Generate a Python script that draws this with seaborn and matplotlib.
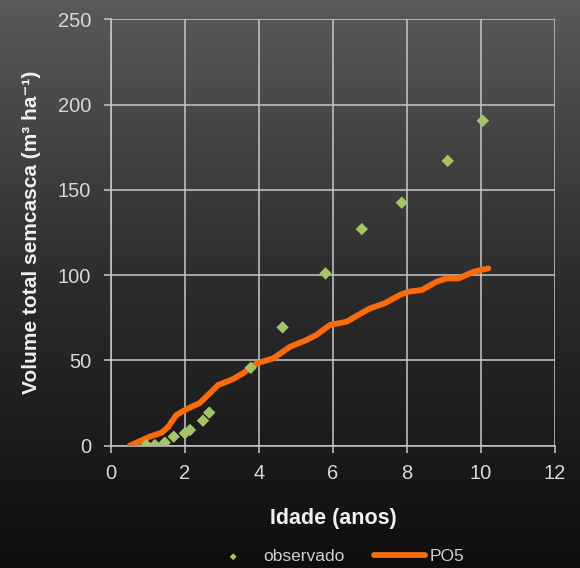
import numpy as np
import pandas as pd
import matplotlib
matplotlib.use('Agg')
import matplotlib.pyplot as plt
from matplotlib.colors import LinearSegmentedColormap
import seaborn as sns

# observed points (age in years, volume m3/ha)
obs_idade = [0.96, 1.19, 1.46, 1.70, 2.00, 2.14, 2.49, 2.66, 3.78, 4.64, 5.80, 6.78, 7.86, 9.10, 10.05]
obs_volume = [0.4, 0.4, 1.8, 5.3, 7.3, 9.2, 14.7, 19.4, 45.7, 69.4, 101.0, 127.0, 142.5, 167.0, 190.5]

# PO5 model curve
po5_idade = [0.51, 1.05, 1.37, 1.55, 1.77, 2.05, 2.40, 2.72, 2.90, 3.30, 3.58, 3.94, 4.39,
             4.84, 5.29, 5.56, 5.92, 6.37, 6.68, 7.00, 7.40, 7.80, 8.04, 8.40, 8.80,
             9.07, 9.39, 9.80, 10.20]
po5_volume = [0.0, 5.3, 7.6, 11.0, 18.0, 21.5, 25.0, 31.7, 35.6, 39.0, 42.6, 48.3, 51.2,
              58.0, 62.0, 65.0, 70.8, 72.7, 76.6, 80.5, 83.5, 88.3, 90.3, 91.3, 96.1,
              98.1, 98.1, 102.0, 104.0]

sns.set_style('ticks')
plt.rcParams['font.family'] = ['Liberation Sans', 'DejaVu Sans']

fig = plt.figure(figsize=(5.8, 5.68), dpi=100)

# dark vertical gradient background
bg = fig.add_axes([0, 0, 1, 1], zorder=-10)
grad = np.linspace(0, 1, 256).reshape(-1, 1)
cmap_bg = LinearSegmentedColormap.from_list('bg', ['#5a5a5a', '#2c2c2c', '#0e0e0e'])
bg.imshow(grad, aspect='auto', cmap=cmap_bg, extent=[0, 1, 0, 1])
bg.axis('off')

ax = fig.add_axes([0.191, 0.2153, 0.766, 0.7507])
ax.set_facecolor('none')

df_obs = pd.DataFrame({'Idade': obs_idade, 'Volume': obs_volume})
df_po5 = pd.DataFrame({'Idade': po5_idade, 'Volume': po5_volume})

sns.lineplot(data=df_po5, x='Idade', y='Volume', ax=ax, color='#fb6a0c', linewidth=4.2,
             sort=False, estimator=None, label='PO5', zorder=3, solid_capstyle='round')
sns.scatterplot(data=df_obs, x='Idade', y='Volume', ax=ax, marker='D', s=40, color='#a3c46a',
                edgecolor='none', label='observado', zorder=4)

ax.set_xlim(0, 12)
ax.set_ylim(0, 250)
ax.set_xticks(range(0, 13, 2))
ax.set_yticks(range(0, 251, 50))
ax.grid(True, color='#c8c8c8', linewidth=1.1)
ax.set_axisbelow(True)
for s in ['top', 'right']:
    ax.spines[s].set_visible(False)
for s in ['left', 'bottom']:
    ax.spines[s].set_color('#c8c8c8')
    ax.spines[s].set_linewidth(1.1)
ax.tick_params(colors='#c8c8c8', labelcolor='#d8d8d8', labelsize=14.5, length=5, width=1.1)
ax.tick_params(axis='y', pad=9)
ax.tick_params(axis='x', pad=8)

ax.set_xlabel('Idade (anos)', fontsize=15.5, fontweight='bold', color='#f0f0f0', labelpad=18)
ax.set_ylabel('Volume total semcasca (m³ ha⁻¹)', fontsize=15, fontweight='bold',
              color='#f0f0f0', labelpad=12)

handles, labels = ax.get_legend_handles_labels()
order = [labels.index('observado'), labels.index('PO5')]
ax.legend([handles[i] for i in order], [labels[i] for i in order],
          loc='lower center', bbox_to_anchor=(0.58, -0.021), bbox_transform=fig.transFigure,
          ncol=2, frameon=False, fontsize=12.5, labelcolor='#d0d0d0', handlelength=2.9,
          columnspacing=1.7, markerscale=0.55, handletextpad=0.3)

fig.savefig('out.png', dpi=100)
